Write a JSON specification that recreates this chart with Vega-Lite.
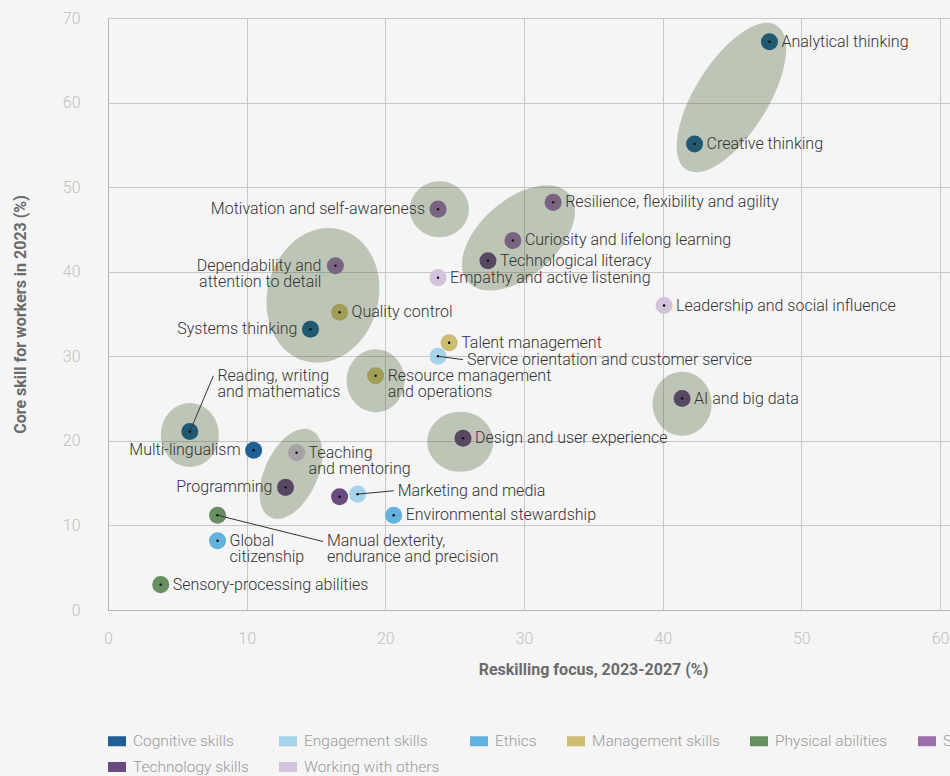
{
  "$schema": "https://vega.github.io/schema/vega-lite/v6.json",
  "width": 842,
  "height": 592,
  "autosize": {"type": "none"},
  "padding": {"left": 108, "top": 18, "right": 0, "bottom": 166},
  "background": "#f5f5f5",
  "config": {
    "view": {"stroke": null},
    "font": "Roboto",
    "text": {"font": "Roboto", "fontSize": 16, "fontWeight": 300, "color": "#333333", "lineBreak": "\n", "lineHeight": 16}
  },
  "datasets": {
    "skills": [
      {"skill": "Analytical thinking", "category": "Cognitive skills", "reskill": 47.7, "core": 67.2},
      {"skill": "Creative thinking", "category": "Cognitive skills", "reskill": 42.3, "core": 55.1},
      {"skill": "Resilience, flexibility and agility", "category": "Self-efficacy", "reskill": 32.1, "core": 48.2},
      {"skill": "Motivation and self-awareness", "category": "Self-efficacy", "reskill": 23.8, "core": 47.4},
      {"skill": "Curiosity and lifelong learning", "category": "Self-efficacy", "reskill": 29.2, "core": 43.7},
      {"skill": "Technological literacy", "category": "Technology skills", "reskill": 27.4, "core": 41.3},
      {"skill": "Dependability and attention to detail", "label": "Dependability and\nattention to detail", "category": "Self-efficacy", "reskill": 16.4, "core": 40.7},
      {"skill": "Empathy and active listening", "category": "Working with others", "reskill": 23.8, "core": 39.3},
      {"skill": "Leadership and social influence", "category": "Working with others", "reskill": 40.1, "core": 36.0},
      {"skill": "Quality control", "category": "Management skills", "reskill": 16.7, "core": 35.2},
      {"skill": "Systems thinking", "category": "Cognitive skills", "reskill": 14.6, "core": 33.2},
      {"skill": "Talent management", "category": "Management skills", "reskill": 24.6, "core": 31.6},
      {"skill": "Service orientation and customer service", "category": "Engagement skills", "reskill": 23.8, "core": 30.0},
      {"skill": "Resource management and operations", "label": "Resource management\nand operations", "category": "Management skills", "reskill": 19.3, "core": 27.7},
      {"skill": "AI and big data", "category": "Technology skills", "reskill": 41.4, "core": 25.0},
      {"skill": "Reading, writing and mathematics", "category": "Cognitive skills", "reskill": 5.9, "core": 21.1},
      {"skill": "Design and user experience", "category": "Technology skills", "reskill": 25.6, "core": 20.3},
      {"skill": "Multi-lingualism", "category": "Cognitive skills", "reskill": 10.5, "core": 18.9},
      {"skill": "Teaching and mentoring", "label": "Teaching\nand mentoring", "category": "Working with others", "reskill": 13.6, "core": 18.6},
      {"skill": "Programming", "category": "Technology skills", "reskill": 12.8, "core": 14.5},
      {"skill": "Marketing and media", "category": "Engagement skills", "reskill": 18.0, "core": 13.7},
      {"skill": "Networks and cybersecurity", "category": "Technology skills", "reskill": 16.7, "core": 13.4},
      {"skill": "Environmental stewardship", "category": "Ethics", "reskill": 20.6, "core": 11.2},
      {"skill": "Manual dexterity, endurance and precision", "category": "Physical abilities", "reskill": 7.9, "core": 11.2},
      {"skill": "Global citizenship", "label": "Global\ncitizenship", "category": "Ethics", "reskill": 7.9, "core": 8.2},
      {"skill": "Sensory-processing abilities", "category": "Physical abilities", "reskill": 3.8, "core": 3.0}
    ],
    "callouts": [
      {"skill": "Service orientation and customer service", "reskill": 23.8, "core": 30.0, "lx": 25.6, "ly": 29.6, "text": "Service orientation and customer service"},
      {"skill": "Reading, writing and mathematics", "reskill": 5.9, "core": 21.1, "lx": 7.6, "ly": 27.7, "text": "Reading, writing\nand mathematics"},
      {"skill": "Marketing and media", "reskill": 18.0, "core": 13.7, "lx": 20.6, "ly": 14.1, "text": "Marketing and media"},
      {"skill": "Manual dexterity, endurance and precision", "reskill": 7.9, "core": 11.2, "lx": 15.5, "ly": 8.1, "text": "Manual dexterity,\nendurance and precision"}
    ],
    "clusters": [
      {"cluster": "c1", "reskill": 44.96, "core": 60.6},
      {"cluster": "c2", "reskill": 23.9, "core": 47.4},
      {"cluster": "c3", "reskill": 29.6, "core": 44.0},
      {"cluster": "c4", "reskill": 15.5, "core": 37.2},
      {"cluster": "c5", "reskill": 19.3, "core": 27.1},
      {"cluster": "c6", "reskill": 5.9, "core": 20.7},
      {"cluster": "c7", "reskill": 13.2, "core": 16.1},
      {"cluster": "c8", "reskill": 25.4, "core": 19.9},
      {"cluster": "c9", "reskill": 41.4, "core": 24.4}
    ]
  },
  "encoding": {
    "x": {
      "field": "reskill", "type": "quantitative",
      "scale": {"domain": [0, 60.72], "nice": false, "zero": false},
      "axis": {
        "values": [0, 10, 20, 30, 40, 50, 60], "grid": true, "gridColor": "#c8c8c8", "ticks": false,
        "domainColor": "#b5b5b5", "labelColor": "#c0c0c0", "labelFontSize": 16, "labelFontWeight": 300,
        "labelPadding": 20, "labelFlush": false, "labelOverlap": false,
        "title": "Reskilling focus, 2023-2027 (%)", "titleFontSize": 16, "titleColor": "#6b6b6b",
        "titleFontWeight": "bold", "titlePadding": 15, "titleX": 485
      }
    },
    "y": {
      "field": "core", "type": "quantitative",
      "scale": {"domain": [0, 70], "nice": false},
      "axis": {
        "values": [0, 10, 20, 30, 40, 50, 60, 70], "grid": true, "gridColor": "#c8c8c8", "ticks": false,
        "domainColor": "#b5b5b5", "labelColor": "#c0c0c0", "labelFontSize": 16, "labelFontWeight": 300,
        "labelPadding": 28, "labelFlush": false, "labelOverlap": false,
        "title": "Core skill for workers in 2023 (%)", "titleFontSize": 16, "titleColor": "#6b6b6b",
        "titleFontWeight": "bold", "titlePadding": 34
      }
    }
  },
  "layer": [
    {
      "data": {"name": "skills"},
      "mark": {"type": "point", "filled": true, "size": 290, "opacity": 1},
      "encoding": {
        "color": {
          "field": "category", "type": "nominal",
          "scale": {
            "domain": ["Cognitive skills", "Engagement skills", "Ethics", "Management skills", "Physical abilities", "Self-efficacy", "Technology skills", "Working with others"],
            "range": ["#1f5f96", "#a6d3ea", "#62b1df", "#cdbd72", "#688f62", "#9a70aa", "#6a4b80", "#d3c3da"]
          },
          "legend": {
            "orient": "none", "legendX": 0, "legendY": 714, "direction": "horizontal", "columns": 6,
            "gridAlign": "each", "title": null, "symbolType": "M -1 -0.5556 H 1 V 0.5556 H -1 Z",
            "symbolSize": 324, "symbolStrokeWidth": 0, "symbolOpacity": 1, "labelFontSize": 15.5,
            "labelFont": "Roboto", "labelFontWeight": 300, "labelColor": "#9a9a9a", "labelOffset": 7,
            "columnPadding": 30, "rowPadding": 8, "labelLimit": 300
          }
        }
      }
    },
    {
      "data": {"name": "skills"},
      "mark": {"type": "point", "filled": true, "size": 6, "color": "#000000", "opacity": 1}
    },
    {
      "data": {"name": "clusters"},
      "mark": {"type": "point", "filled": true, "size": 4, "color": "#284614", "opacity": 0.27, "strokeWidth": 0},
      "encoding": {
        "shape": {
          "field": "cluster", "type": "nominal", "legend": null,
          "scale": {
            "domain": ["c1", "c2", "c3", "c4", "c5", "c6", "c7", "c8", "c9"],
            "range": [
              "M -45.04 72.08 A 85 36 -58 1 0 45.04 -72.08 A 85 36 -58 1 0 -45.04 72.08 Z",
              "M -29.5 0 A 29.5 28 0 1 0 29.5 0 A 29.5 28 0 1 0 -29.5 0 Z",
              "M -50.56 43.96 A 67 38 -41 1 0 50.56 -43.96 A 67 38 -41 1 0 -50.56 43.96 Z",
              "M -17.6 65.68 A 68 55 -75 1 0 17.6 -65.68 A 68 55 -75 1 0 -17.6 65.68 Z",
              "M -29 0 A 29 31.5 0 1 0 29 0 A 29 31.5 0 1 0 -29 0 Z",
              "M -29 0 A 29 32 0 1 0 29 0 A 29 32 0 1 0 -29 0 Z",
              "M -20.28 43.5 A 48 26 -65 1 0 20.28 -43.5 A 48 26 -65 1 0 -20.28 43.5 Z",
              "M -33 0 A 33 30 0 1 0 33 0 A 33 30 0 1 0 -33 0 Z",
              "M -29.5 0 A 29.5 32 0 1 0 29.5 0 A 29.5 32 0 1 0 -29.5 0 Z"
            ]
          }
        }
      }
    },
    {
      "data": {"name": "callouts"},
      "mark": {"type": "rule", "color": "#333333", "strokeWidth": 1},
      "encoding": {
        "x2": {"field": "lx"},
        "y2": {"field": "ly"}
      }
    },
    {
      "data": {"name": "skills"},
      "transform": [{"filter": {"field": "skill", "oneOf": ["Analytical thinking", "Creative thinking", "Resilience, flexibility and agility", "Curiosity and lifelong learning", "Technological literacy", "Empathy and active listening", "Leadership and social influence", "Quality control", "Talent management", "AI and big data", "Design and user experience", "Environmental stewardship", "Sensory-processing abilities"]}}],
      "mark": {"type": "text", "align": "left", "baseline": "middle", "dx": 12},
      "encoding": {"text": {"field": "skill"}}
    },
    {
      "data": {"name": "skills"},
      "transform": [{"filter": {"field": "skill", "oneOf": ["Motivation and self-awareness", "Systems thinking", "Multi-lingualism", "Programming"]}}],
      "mark": {"type": "text", "align": "right", "baseline": "middle", "dx": -13},
      "encoding": {"text": {"field": "skill"}}
    },
    {
      "data": {"name": "skills"},
      "transform": [{"filter": {"field": "skill", "oneOf": ["Resource management and operations", "Teaching and mentoring", "Global citizenship"]}}],
      "mark": {"type": "text", "align": "left", "baseline": "top", "dx": 12, "dy": -8},
      "encoding": {"text": {"field": "label"}}
    },
    {
      "data": {"name": "skills"},
      "transform": [{"filter": {"field": "skill", "oneOf": ["Dependability and attention to detail"]}}],
      "mark": {"type": "text", "align": "right", "baseline": "top", "dx": -14, "dy": -8},
      "encoding": {"text": {"field": "label"}}
    },
    {
      "data": {"name": "callouts"},
      "mark": {"type": "text", "align": "left", "baseline": "top", "dx": 4, "dy": -8},
      "encoding": {
        "x": {"field": "lx", "type": "quantitative"},
        "y": {"field": "ly", "type": "quantitative"},
        "text": {"field": "text"}
      }
    }
  ]
}
